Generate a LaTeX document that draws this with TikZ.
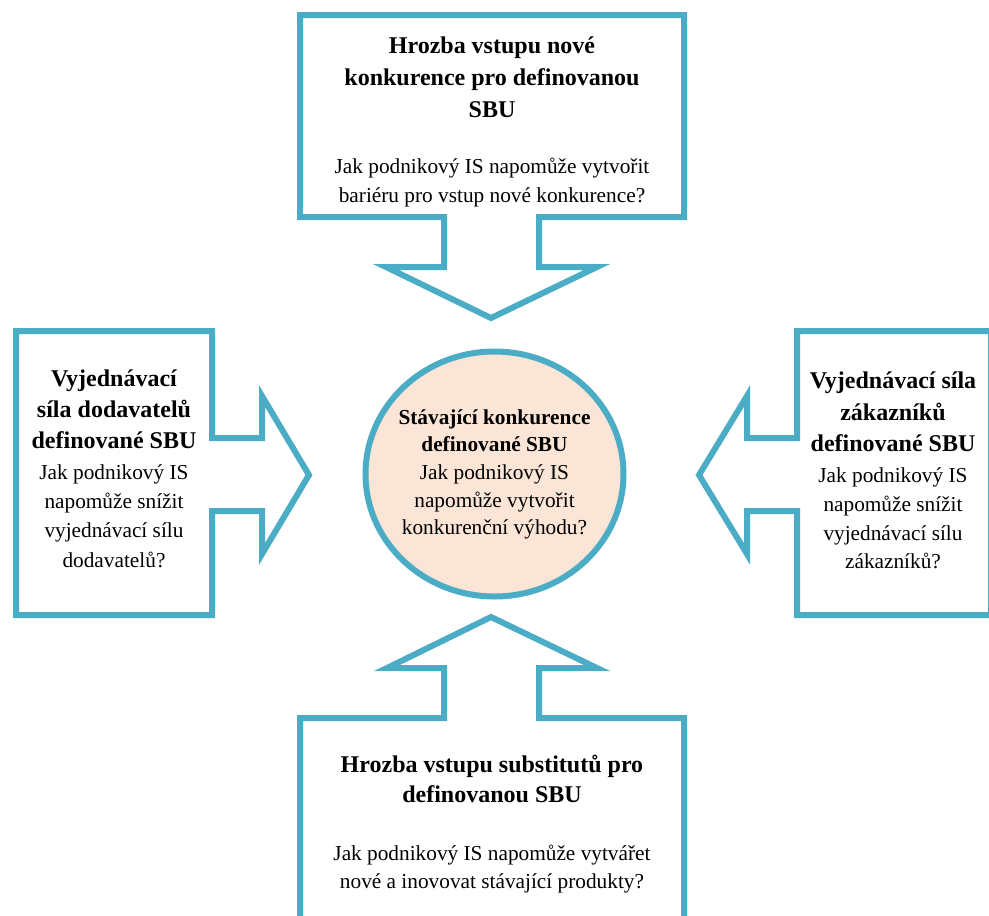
\documentclass[tikz,border=0pt]{standalone}
\usepackage{fontspec}
\setmainfont{Liberation Serif}
\usetikzlibrary{shapes.geometric}
\definecolor{frame}{HTML}{4BACC6}
\definecolor{peach}{HTML}{FBE5D6}
\tikzset{
  outline/.style={draw=frame, line width=6pt, line join=miter, fill=white},
  bigbold/.style={font=\fontsize{24}{30}\selectfont\bfseries, anchor=base, inner sep=0pt},
  bodytext/.style={font=\fontsize{21.3}{28}\selectfont, anchor=base, inner sep=0pt},
  smallbold/.style={font=\fontsize{21.3}{28}\selectfont\bfseries, anchor=base, inner sep=0pt},
}
\begin{document}
\begin{tikzpicture}[x=1pt,y=-1pt]
\useasboundingbox (0,0) rectangle (989,916);
\clip (0,0) rectangle (989,916);
% top shape
\draw[outline] (300,15) -- (684,15) -- (684,217) -- (539,217) -- (539,267) -- (597,267)
  -- (491,318) -- (386,267) -- (444,267) -- (444,217) -- (300,217) -- cycle;
% bottom shape
\draw[outline] (300,925) -- (300,718) -- (444,718) -- (444,668) -- (387,668) -- (491,617)
  -- (597,668) -- (539,668) -- (539,718) -- (684,718) -- (684,925);
% left shape
\draw[outline] (16,331) -- (212,331) -- (212,438) -- (262,438) -- (262,396) -- (309,475)
  -- (262,554) -- (262,511) -- (212,511) -- (212,615) -- (16,615) -- cycle;
% right shape
\draw[outline] (991,331) -- (797,331) -- (797,438) -- (747,438) -- (747,396) -- (699,475)
  -- (747,554) -- (747,511) -- (797,511) -- (797,615) -- (991,615) -- cycle;
% centre
\node[ellipse, draw=frame, fill=peach, line width=6pt, minimum width=258pt, minimum height=245pt, inner sep=0pt] (centre) at (494.5,474) {};

% top texts
\foreach \yy/\tt [count=\i] in {53/Hrozba vstupu nové, 85/konkurence pro definovanou, 117/SBU}
  \node[bigbold, name=topT\i] at (492,\yy) {\tt};
\foreach \yy/\tt [count=\i] in {173/Jak podnikový IS napomůže vytvořit, 202/bariéru pro vstup nové konkurence?}
  \node[bodytext, name=topB\i] at (492,\yy) {\tt};
% left texts
\foreach \yy/\tt [count=\i] in {386/Vyjednávací, 417/síla dodavatelů, 448/definované SBU}
  \node[bigbold, name=leftT\i] at (114,\yy) {\tt};
\foreach \yy/\tt [count=\i] in {479/Jak podnikový IS, 508/napomůže snížit, 537/vyjednávací sílu, 567/dodavatelů?}
  \node[bodytext, name=leftB\i] at (114,\yy) {\tt};
% right texts
\foreach \yy/\tt [count=\i] in {388/Vyjednávací síla, 420/zákazníků, 451/definované SBU}
  \node[bigbold, name=rightT\i] at (893,\yy) {\tt};
\foreach \yy/\tt [count=\i] in {482/Jak podnikový IS, 511/napomůže snížit, 540/vyjednávací sílu, 568/zákazníků?}
  \node[bodytext, name=rightB\i] at (893,\yy) {\tt};
% centre texts
\foreach \yy/\tt [count=\i] in {424/Stávající konkurence, 451/definované SBU}
  \node[smallbold, name=cenT\i] at (494.5,\yy) {\tt};
\foreach \yy/\tt [count=\i] in {479/Jak podnikový IS, 507/napomůže vytvořit, 534/konkurenční výhodu?}
  \node[bodytext, name=cenB\i] at (494.5,\yy) {\tt};
% bottom texts
\foreach \yy/\tt [count=\i] in {772/Hrozba vstupu substitutů pro, 802/definovanou SBU}
  \node[bigbold, name=botT\i] at (492,\yy) {\tt};
\foreach \yy/\tt [count=\i] in {860/Jak podnikový IS napomůže vytvářet, 888/nové a inovovat stávající produkty?}
  \node[bodytext, name=botB\i] at (492,\yy) {\tt};
\end{tikzpicture}
\end{document}
